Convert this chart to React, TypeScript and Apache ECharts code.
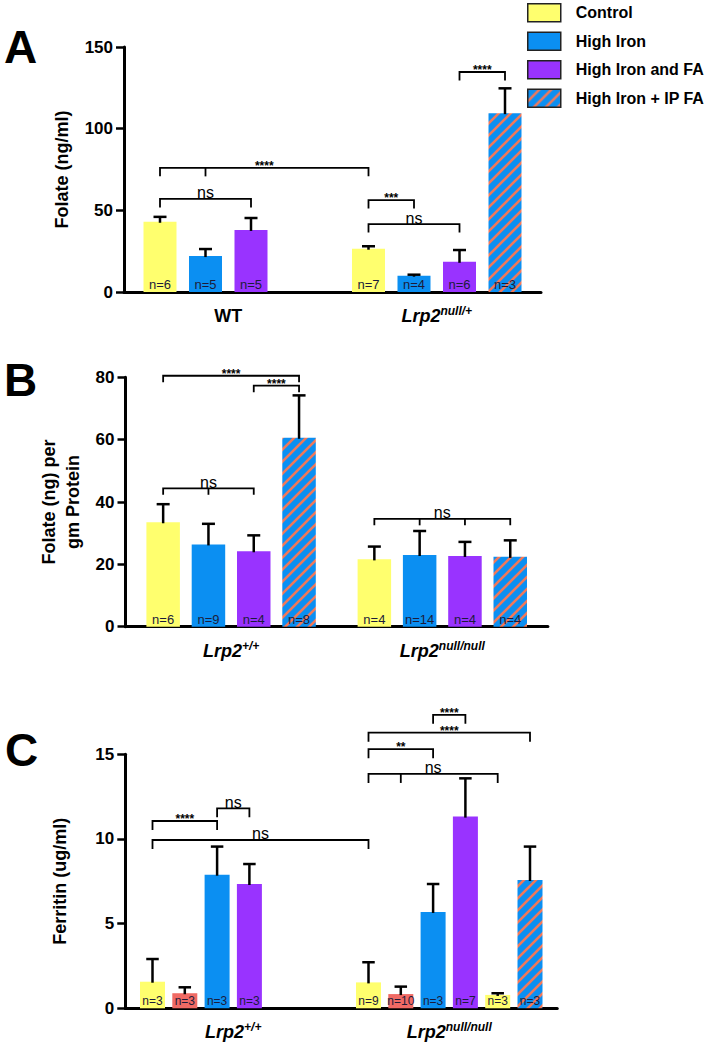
import React, { useEffect, useRef } from 'react';
import * as echarts from 'echarts';

const FONT = "'Liberation Sans', Arial, Helvetica, sans-serif";

// ---------- Colours ----------
const YELLOW = '#ffff6e';
const BLUE = '#0b8ff2';
const PURPLE = '#9933ff';
const SALMON = '#f06a64';
const STRIPE = '#f0785a';

// ---------- Panel A: Folate (ng/ml) ----------
const catsA = ['WT', 'Lrp2^null/+'];
const aControl = [43, 26.5];
const aControlSem = [3, 1.5];
const aControlN = [6, 7];
const aHighIron = [22, 10];
const aHighIronSem = [4.3, 0.6];
const aHighIronN = [5, 4];
const aHighIronFA = [38, 18.5];
const aHighIronFASem = [7.3, 7.2];
const aHighIronFAN = [5, 6];
const aIpFA = [null, 109.5];
const aIpFASem = [null, 15.2];
const aIpFAN = [null, 3];
const ticksA = { min: 0, max: 150, interval: 50 };
const bracketsA = [
  { from: [0, 0], to: [1, 0], ticks: [[0, 1]], y: 76, label: '****' },
  { from: [0, 0], to: [0, 2], ticks: [], y: 57, label: 'ns' },
  { from: [1, 0], to: [1, 1], ticks: [], y: 56.3, label: '***' },
  { from: [1, 0], to: [1, 2], ticks: [], y: 41.6, label: 'ns' },
  { from: [1, 2], to: [1, 3], ticks: [], y: 134.7, label: '****' },
];

// ---------- Panel B: Folate (ng) per gm Protein ----------
const catsB = ['Lrp2^+/+', 'Lrp2^null/null'];
const bControl = [33.5, 21.6];
const bControlSem = [5.8, 4.1];
const bControlN = [6, 4];
const bHighIron = [26.4, 23.0];
const bHighIronSem = [6.6, 7.7];
const bHighIronN = [9, 14];
const bHighIronFA = [24.2, 22.7];
const bHighIronFASem = [5.1, 4.5];
const bHighIronFAN = [4, 4];
const bIpFA = [60.6, 22.4];
const bIpFASem = [13.6, 5.3];
const bIpFAN = [8, 4];
const ticksB = { min: 0, max: 80, interval: 20 };
const bracketsB = [
  { from: [0, 0], to: [0, 3], ticks: [], y: 80.5, label: '****' },
  { from: [0, 2], to: [0, 3], ticks: [], y: 77.3, label: '****' },
  { from: [0, 0], to: [0, 2], ticks: [[0, 1]], y: 44.4, label: 'ns' },
  { from: [1, 0], to: [1, 3], ticks: [[1, 1], [1, 2]], y: 34.6, label: 'ns' },
];

// ---------- Panel C: Ferritin (ug/ml) ----------
const catsC = ['Lrp2^+/+', 'Lrp2^null/null'];
const cControl = [1.57, 1.53];
const cControlSem = [1.34, 1.19];
const cControlN = [3, 9];
const cRed = [0.89, 0.84];
const cRedSem = [0.35, 0.44];
const cRedN = [3, 10];
const cHighIron = [7.89, 5.69];
const cHighIronSem = [1.66, 1.65];
const cHighIronN = [3, 3];
const cHighIronFA = [7.34, 11.32];
const cHighIronFASem = [1.18, 2.26];
const cHighIronFAN = [3, 7];
const cYellow2 = [null, 0.79];
const cYellow2Sem = [null, 0.1];
const cYellow2N = [null, 3];
const cIpFA = [null, 7.58];
const cIpFASem = [null, 1.97];
const cIpFAN = [null, 3];
const ticksC = { min: 0, max: 15, interval: 5 };
const bracketsC = [
  { from: [0, 0], to: [0, 2], ticks: [], y: 11.06, label: '****' },
  { from: [0, 2], to: [0, 3], ticks: [], y: 11.81, label: 'ns' },
  { from: [0, 0], to: [1, 0], ticks: [], y: 9.94, label: 'ns' },
  { from: [1, 2], to: [1, 3], ticks: [], y: 17.33, label: '****' },
  { from: [1, 0], to: [1, 5], ticks: [], y: 16.28, label: '****' },
  { from: [1, 0], to: [1, 2], ticks: [], y: 15.3, label: '**' },
  { from: [1, 0], to: [1, 4], ticks: [[1, 1]], y: 13.84, label: 'ns' },
];

const legendNames = ['Control', 'High Iron', 'High Iron and FA', 'High Iron + IP FA'];

// ---------- Layout (positions / sizes) ----------
const GRIDS = [
  { left: 124, top: 47, width: 417, height: 245 },
  { left: 125.5, top: 377.3, width: 422.4, height: 249.4 },
  { left: 125.25, top: 754.3, width: 432, height: 254 },
];
const LAYOUT = [
  { n: 4, barW: 33, gap: 12.5, cap: 13, leg: 8.5, nSize: 13, yName: 'Folate (ng/ml)', nameGap: 49 },
  { n: 4, barW: 33.5, gap: 11.8, cap: 13, leg: 6.5, nSize: 13, yName: 'Folate (ng) per\ngm Protein', nameGap: 41 },
  { n: 6, barW: 25, gap: 7.3, cap: 12.5, leg: 9, nSize: 12, yName: 'Ferritin (ug/ml)', nameGap: 53 },
];

const stripeSvg =
  '<svg xmlns="http://www.w3.org/2000/svg" width="12" height="12">' +
  '<rect width="12" height="12" fill="' + BLUE + '"/>' +
  '<path d="M-3,15 L15,-3 M-3,3 L3,-3 M9,15 L15,9" stroke="' + STRIPE + '" stroke-width="2.6"/>' +
  '</svg>';
const stripeUrl = 'data:image/svg+xml;base64,' + btoa(stripeSvg);
const STRIPED: any = { image: stripeUrl, repeat: 'repeat', imageWidth: 12, imageHeight: 12 };

function slotOffset(L: any, slot: number) {
  const total = L.n * L.barW + (L.n - 1) * L.gap;
  return -total / 2 + slot * (L.barW + L.gap) + L.barW / 2;
}

function catFormatter(v: string) {
  if (v.indexOf('^') < 0) return '{w|' + v + '}';
  const [base, sup] = v.split('^');
  return '{m|' + base + '}{s|' + sup + '}';
}

function buildPanel(idx: number, defs: any[], brackets: any[]) {
  const L = LAYOUT[idx];
  const out: any[] = [];
  defs.forEach((d) => {
    out.push({
      type: 'bar',
      name: d.name,
      xAxisIndex: idx,
      yAxisIndex: idx,
      data: d.mean.map((v: any) => (v == null ? '-' : v)),
      barWidth: L.barW,
      barGap: ((L.gap / L.barW) * 100).toFixed(2) + '%',
      itemStyle: { color: d.color },
      emphasis: { disabled: true },
      label: {
        show: true,
        position: 'insideBottom',
        distance: 1,
        fontFamily: FONT,
        fontSize: L.nSize,
        color: '#1c1c3a',
        formatter: (p: any) => (d.n[p.dataIndex] != null ? 'n=' + d.n[p.dataIndex] : ''),
      },
      z: 2,
    });
  });
  const errData: any[] = [];
  defs.forEach((d, s) => {
    d.mean.forEach((v: any, c: number) => {
      if (v != null) errData.push([c, s, v, d.sem[c]]);
    });
  });
  out.push({
    type: 'custom',
    name: 'err' + idx,
    xAxisIndex: idx,
    yAxisIndex: idx,
    encode: { x: 0, y: 2 },
    data: errData,
    z: 4,
    silent: true,
    renderItem: (params: any, api: any) => {
      const c = api.value(0);
      const s = api.value(1);
      const m = api.value(2);
      const e = api.value(3);
      const base = api.coord([c, m]);
      const top = api.coord([c, m + e]);
      const x = base[0] + slotOffset(L, s);
      const st = { stroke: '#000', lineWidth: 2.5 };
      return {
        type: 'group',
        children: [
          { type: 'line', shape: { x1: x, y1: base[1] + 1, x2: x, y2: top[1] }, style: st },
          { type: 'line', shape: { x1: x - L.cap / 2, y1: top[1], x2: x + L.cap / 2, y2: top[1] }, style: st },
        ],
      };
    },
  });
  out.push({
    type: 'custom',
    name: 'sig' + idx,
    xAxisIndex: idx,
    yAxisIndex: idx,
    encode: { x: 0, y: 1 },
    data: brackets.map((b) => [b.from[0], b.y]),
    z: 5,
    silent: true,
    clip: false,
    renderItem: (params: any, api: any) => {
      const b = brackets[params.dataIndex];
      const px = (cs: number[]) => api.coord([cs[0], b.y])[0] + slotOffset(L, cs[1]);
      const y = api.coord([0, b.y])[1];
      const x1 = px(b.from);
      const x2 = px(b.to);
      const st = { stroke: '#000', lineWidth: 1.8, fill: null };
      const children: any[] = [
        {
          type: 'polyline',
          shape: { points: [[x1, y + L.leg], [x1, y], [x2, y], [x2, y + L.leg]] },
          style: st,
        },
      ];
      (b.ticks || []).forEach((t: number[]) => {
        const tx = px(t);
        children.push({ type: 'line', shape: { x1: tx, y1: y, x2: tx, y2: y + L.leg }, style: st });
      });
      const isStar = b.label.indexOf('*') >= 0;
      children.push({
        type: 'text',
        x: (x1 + x2) / 2,
        y: isStar ? y - 8 : y + 2,
        style: {
          text: b.label,
          fill: '#000',
          fontFamily: FONT,
          fontSize: isStar ? 12 : 16,
          fontWeight: isStar ? 'bold' : 'normal',
          align: 'center',
          verticalAlign: isStar ? 'top' : 'bottom',
        },
      });
      return { type: 'group', children };
    },
  });
  return out;
}

function makeAxes(idx: number, cats: string[], ticks: any) {
  const L = LAYOUT[idx];
  const x = {
    gridIndex: idx,
    type: 'category',
    data: cats,
    axisLine: { lineStyle: { color: '#000', width: 3 } },
    axisTick: { alignWithLabel: true, length: 6, lineStyle: { color: '#000', width: 3 } },
    axisLabel: {
      interval: 0,
      margin: 13,
      formatter: catFormatter,
      rich: {
        w: { fontFamily: FONT, fontSize: 18, fontWeight: 'bold', color: '#000', lineHeight: 20, verticalAlign: 'bottom' },
        m: { fontFamily: FONT, fontSize: 18, fontWeight: 'bold', fontStyle: 'italic', color: '#000', lineHeight: 20, verticalAlign: 'bottom' },
        s: { fontFamily: FONT, fontSize: 12, fontWeight: 'bold', fontStyle: 'italic', color: '#000', lineHeight: 20, verticalAlign: 'top' },
      },
    },
  };
  const y = {
    gridIndex: idx,
    type: 'value',
    min: ticks.min,
    max: ticks.max,
    interval: ticks.interval,
    axisLine: { show: true, lineStyle: { color: '#000', width: 3 } },
    axisTick: { show: true, length: 8, lineStyle: { color: '#000', width: 2.5 } },
    splitLine: { show: false },
    axisLabel: { fontFamily: FONT, fontSize: 17, fontWeight: 'bold', color: '#000', margin: 11 },
    name: L.yName,
    nameLocation: 'middle',
    nameGap: L.nameGap,
    nameTextStyle: { fontFamily: FONT, fontSize: 18, fontWeight: 'bold', color: '#000', lineHeight: 24 },
  };
  return { x, y };
}

export default function App() {
  const ref = useRef<HTMLDivElement>(null);
  useEffect(() => {
    if (!ref.current) return;
    const chart = echarts.init(ref.current, undefined, { renderer: 'svg' });
    const axA = makeAxes(0, catsA, ticksA);
    const axB = makeAxes(1, catsB, ticksB);
    const axC = makeAxes(2, catsC, ticksC);
    const series = [
      ...buildPanel(0, [
        { name: 'Control', mean: aControl, sem: aControlSem, n: aControlN, color: YELLOW },
        { name: 'High Iron', mean: aHighIron, sem: aHighIronSem, n: aHighIronN, color: BLUE },
        { name: 'High Iron and FA', mean: aHighIronFA, sem: aHighIronFASem, n: aHighIronFAN, color: PURPLE },
        { name: 'High Iron + IP FA', mean: aIpFA, sem: aIpFASem, n: aIpFAN, color: STRIPED },
      ], bracketsA),
      ...buildPanel(1, [
        { name: 'Control', mean: bControl, sem: bControlSem, n: bControlN, color: YELLOW },
        { name: 'High Iron', mean: bHighIron, sem: bHighIronSem, n: bHighIronN, color: BLUE },
        { name: 'High Iron and FA', mean: bHighIronFA, sem: bHighIronFASem, n: bHighIronFAN, color: PURPLE },
        { name: 'High Iron + IP FA', mean: bIpFA, sem: bIpFASem, n: bIpFAN, color: STRIPED },
      ], bracketsB),
      ...buildPanel(2, [
        { name: 'Control', mean: cControl, sem: cControlSem, n: cControlN, color: YELLOW },
        { name: 'Group 2', mean: cRed, sem: cRedSem, n: cRedN, color: SALMON },
        { name: 'High Iron', mean: cHighIron, sem: cHighIronSem, n: cHighIronN, color: BLUE },
        { name: 'High Iron and FA', mean: cHighIronFA, sem: cHighIronFASem, n: cHighIronFAN, color: PURPLE },
        { name: 'Group 5', mean: cYellow2, sem: cYellow2Sem, n: cYellow2N, color: YELLOW },
        { name: 'High Iron + IP FA', mean: cIpFA, sem: cIpFASem, n: cIpFAN, color: STRIPED },
      ], bracketsC),
    ];
    const letter = (t: string, x: number, y: number) => ({
      type: 'text',
      x,
      y,
      style: { text: t, fill: '#000', fontFamily: FONT, fontSize: 46, fontWeight: 'bold', verticalAlign: 'middle', align: 'left' },
    });
    chart.setOption({
      animation: false,
      grid: GRIDS,
      xAxis: [axA.x, axB.x, axC.x],
      yAxis: [axA.y, axB.y, axC.y],
      legend: {
        data: legendNames,
        orient: 'vertical',
        left: 527,
        top: 3,
        padding: 0,
        itemWidth: 33,
        itemHeight: 18,
        itemGap: 9,
        icon: 'rect',
        selectedMode: false,
        itemStyle: { borderColor: '#222', borderWidth: 1.5 },
        textStyle: { fontFamily: FONT, fontSize: 16, fontWeight: 'bold', color: '#000', padding: [0, 0, 0, 10] },
      },
      graphic: [letter('A', 4, 47), letter('B', 4, 380), letter('C', 5, 750)],
      series,
    });
    return () => chart.dispose();
  }, []);
  return (
    <div
      ref={ref}
      style={{ position: 'absolute', left: 0, top: 0, width: 711, height: 1050, background: '#fff' }}
    />
  );
}
